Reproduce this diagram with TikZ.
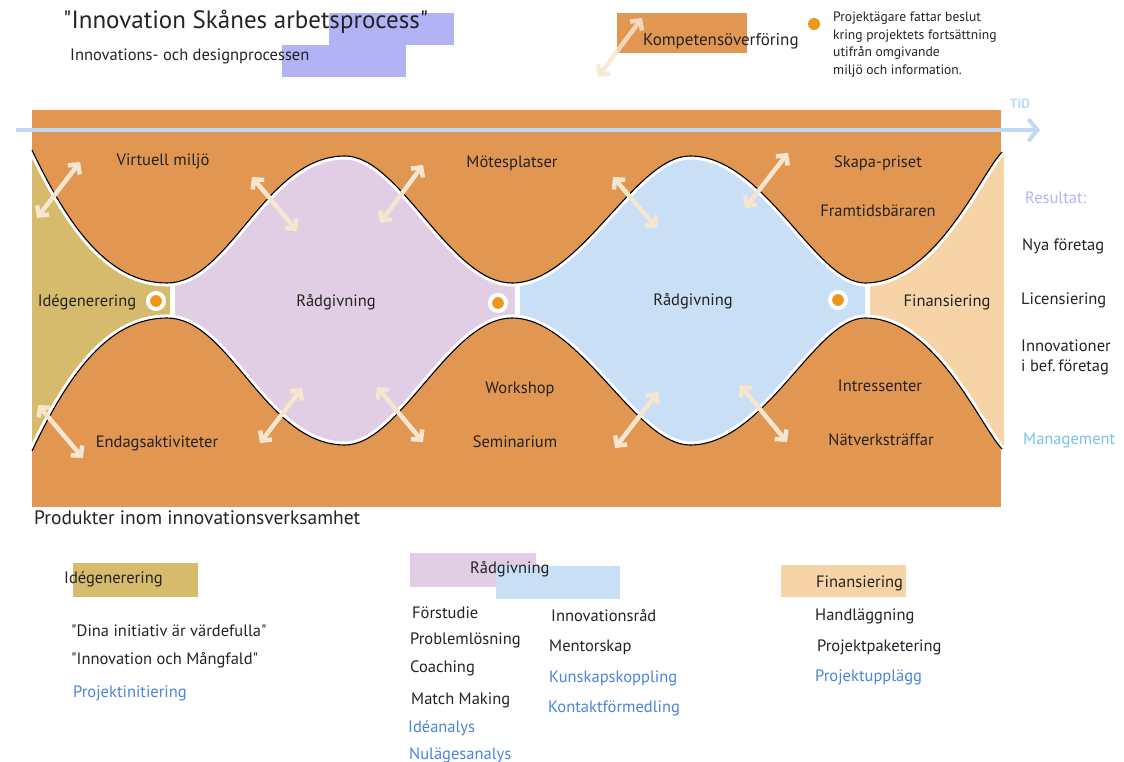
\documentclass[tikz,border=0pt]{standalone}
\usepackage{fontspec}
\setmainfont{PT Sans}
\usetikzlibrary{arrows.meta}

\definecolor{bandorange}{RGB}{225,150,82}
\definecolor{ideakhaki}{RGB}{214,187,108}
\definecolor{advlilac}{RGB}{226,206,228}
\definecolor{advblue}{RGB}{201,223,246}
\definecolor{finpeach}{RGB}{246,212,168}
\definecolor{arrowcream}{RGB}{246,229,207}
\definecolor{titlebox}{RGB}{178,179,245}
\definecolor{timeblue}{RGB}{192,216,246}
\definecolor{linkblue}{RGB}{72,132,222}
\definecolor{mgmtblue}{RGB}{118,196,240}
\definecolor{dotorange}{RGB}{236,150,28}
\definecolor{inkgray}{RGB}{35,35,35}

% the two waves that bound the process
\newcommand{\topwave}{(32,150) .. controls (70,230) and (110,283) .. (167,283)
  .. controls (230,283) and (265,156) .. (345,156)
  .. controls (400,156) and (450,283) .. (512,283)
  .. controls (580,283) and (635,156) .. (690,156)
  .. controls (765,156) and (815,283) .. (865,283)
  .. controls (935,283) and (980,175) .. (1002,152)}
\newcommand{\botwave}{(32,451) .. controls (70,371) and (110,318) .. (167,318)
  .. controls (230,318) and (265,445) .. (345,445)
  .. controls (400,445) and (450,318) .. (512,318)
  .. controls (580,318) and (635,445) .. (690,445)
  .. controls (765,445) and (815,318) .. (865,318)
  .. controls (935,318) and (980,426) .. (1002,449)}
\newcommand{\qq}{\textquotedbl}

\tikzset{
  lbl/.style={font=\fontsize{16.5}{20}\selectfont, text=inkgray, inner sep=0pt},
  lst/.style={lbl, anchor=west},
  lnk/.style={lst, text=linkblue},
  exchange/.style={<->, draw=arrowcream, line width=4.5pt},
  gate/.style={fill=dotorange, draw=white, line width=4pt}
}

\begin{document}
\begin{tikzpicture}[x=1pt, y=-1pt, >={Straight Barb[length=7pt,width=15pt]}]

\useasboundingbox (0,0) rectangle (1124,762);

% Coordinates
\coordinate (N1) at (156,301);
\coordinate (N2) at (498,303);
\coordinate (N3) at (838,300);

% Title
\fill[titlebox] (329,13) rectangle (454,45);
\fill[titlebox] (282,45) rectangle (406,77);
\node[lst, font=\fontsize{25}{29}\selectfont] (title) at (63,22) {\qq Innovation Skånes arbetsprocess\qq};
\node[lst] (subtitle) at (70,56) {Innovations- och designprocessen};

% Legend
\fill[bandorange] (617,13) rectangle (747,53);
\draw[exchange, draw opacity=0.8] (598,77) -- (642,18);
\node[lst, font=\fontsize{17}{20}\selectfont] (komp) at (643,41) {Kompetensöverföring};
\fill[dotorange] (814,24) circle[radius=6];
\node[lst, font=\fontsize{13.6}{17.5}\selectfont, align=left, anchor=north west] (decision) at (833,12)
  {Projektägare fattar beslut\\kring projektets fortsättning\\utifrån omgivande\\miljö och information.};

% Band
\fill[bandorange] (32,110) rectangle (1001,507);

% Time axis
\draw[timeblue, line width=4pt, -{Straight Barb[length=9pt,width=22pt]}] (16,130) -- (1040,130);
\node[font=\bfseries\fontsize{13.5}{15}\selectfont, text=timeblue, inner sep=0pt] (tid) at (1020,104) {TID};

% Phases between the waves
\begin{scope}
\clip \topwave -- (1004,152) -- (1004,600) -- (32,600) -- cycle;
\clip \botwave -- (1004,449) -- (1004,100) -- (32,100) -- cycle;
\fill[ideakhaki] (32,140) rectangle (172,460);
\fill[advlilac] (172,140) rectangle (517,460);
\fill[advblue] (517,140) rectangle (867,460);
\fill[finpeach] (867,140) rectangle (1004,460);
\draw[white, line width=7pt] \topwave;
\draw[white, line width=7pt] \botwave;
\draw[white, line width=5pt] (172,270) -- (172,330);
\draw[white, line width=5pt] (517,270) -- (517,330);
\draw[white, line width=5pt] (867,270) -- (867,330);
\end{scope}
\draw[black, line width=1.1pt] \topwave;
\draw[black, line width=1.1pt] \botwave;

% Decision points
\foreach \n in {N1,N2,N3}
  \draw[gate] (\n) circle[radius=8];

% Exchange arrows
\draw[exchange] (37,218) -- (80,162);
\draw[exchange] (252,177) -- (297,231);
\draw[exchange] (380,223) -- (423,165);
\draw[exchange] (613,177) -- (657,228);
\draw[exchange] (745,208) -- (788,153);
\draw[exchange] (38,405) -- (83,458);
\draw[exchange] (260,443) -- (302,388);
\draw[exchange] (377,387) -- (423,442);
\draw[exchange] (615,448) -- (658,392);
\draw[exchange] (740,385) -- (787,442);

% Labels in the band
\node[lbl] (virtuell) at (163,161) {Virtuell miljö};
\node[lbl] (motes) at (512,163) {Mötesplatser};
\node[lbl] (skapa) at (878,163) {Skapa-priset};
\node[lbl] (framtid) at (878,211) {Framtidsbäraren};
\node[lbl] (idegen) at (87,302) {Idégenerering};
\node[lbl] (radA) at (336,302) {Rådgivning};
\node[lbl] (radB) at (693,301) {Rådgivning};
\node[lbl] (finans) at (947,302) {Finansiering};
\node[lbl] (endag) at (157,443) {Endagsaktiviteter};
\node[lbl] (workshop) at (520,389) {Workshop};
\node[lbl] (seminar) at (515,442) {Seminarium};
\node[lbl] (intress) at (880,386) {Intressenter};
\node[lbl] (natverk) at (881,440) {Nätverksträffar};

% Results
\node[lst, text=titlebox] (resultat) at (1025,198) {Resultat:};
\node[lst] (nya) at (1022,246) {Nya företag};
\node[lst] (licens) at (1021,300) {Licensiering};
\node[lst, align=left] (innov) at (1021,357) {Innovationer\\i bef.\,företag};
\node[lst, text=mgmtblue] (manage) at (1023,440) {Management};

% Products
\node[lst, font=\fontsize{19.5}{22}\selectfont] (produkter) at (34,518) {Produkter inom innovationsverksamhet};

\fill[ideakhaki] (73,563) rectangle (198,597);
\node[lst] (pIde) at (64,579) {Idégenerering};
\node[lst] at (71,631) {\qq Dina initiativ är värdefulla\qq};
\node[lst] at (71,660) {\qq Innovation och Mångfald\qq};
\node[lnk] at (73,693) {Projektinitiering};

\fill[advlilac] (410,553) rectangle (536,587);
\fill[advblue] (496,566) rectangle (620,599);
\node[lst] (pRad) at (470,569) {Rådgivning};
\node[lst] at (412,613) {Förstudie};
\node[lst] at (410,640) {Problemlösning};
\node[lst] at (410,668) {Coaching};
\node[lst] at (411,700) {Match Making};
\node[lnk] at (408,728) {Idéanalys};
\node[lnk] at (409,755) {Nulägesanalys};
\node[lst] at (551,616) {Innovationsråd};
\node[lst] at (549,647) {Mentorskap};
\node[lnk] at (549,678) {Kunskapskoppling};
\node[lnk] at (548,708) {Kontaktförmedling};

\fill[finpeach] (781,565) rectangle (906,597);
\node[lst] (pFin) at (816,583) {Finansiering};
\node[lst] at (815,616) {Handläggning};
\node[lst] at (817,647) {Projektpaketering};
\node[lnk] at (815,677) {Projektupplägg};

\end{tikzpicture}
\end{document}
